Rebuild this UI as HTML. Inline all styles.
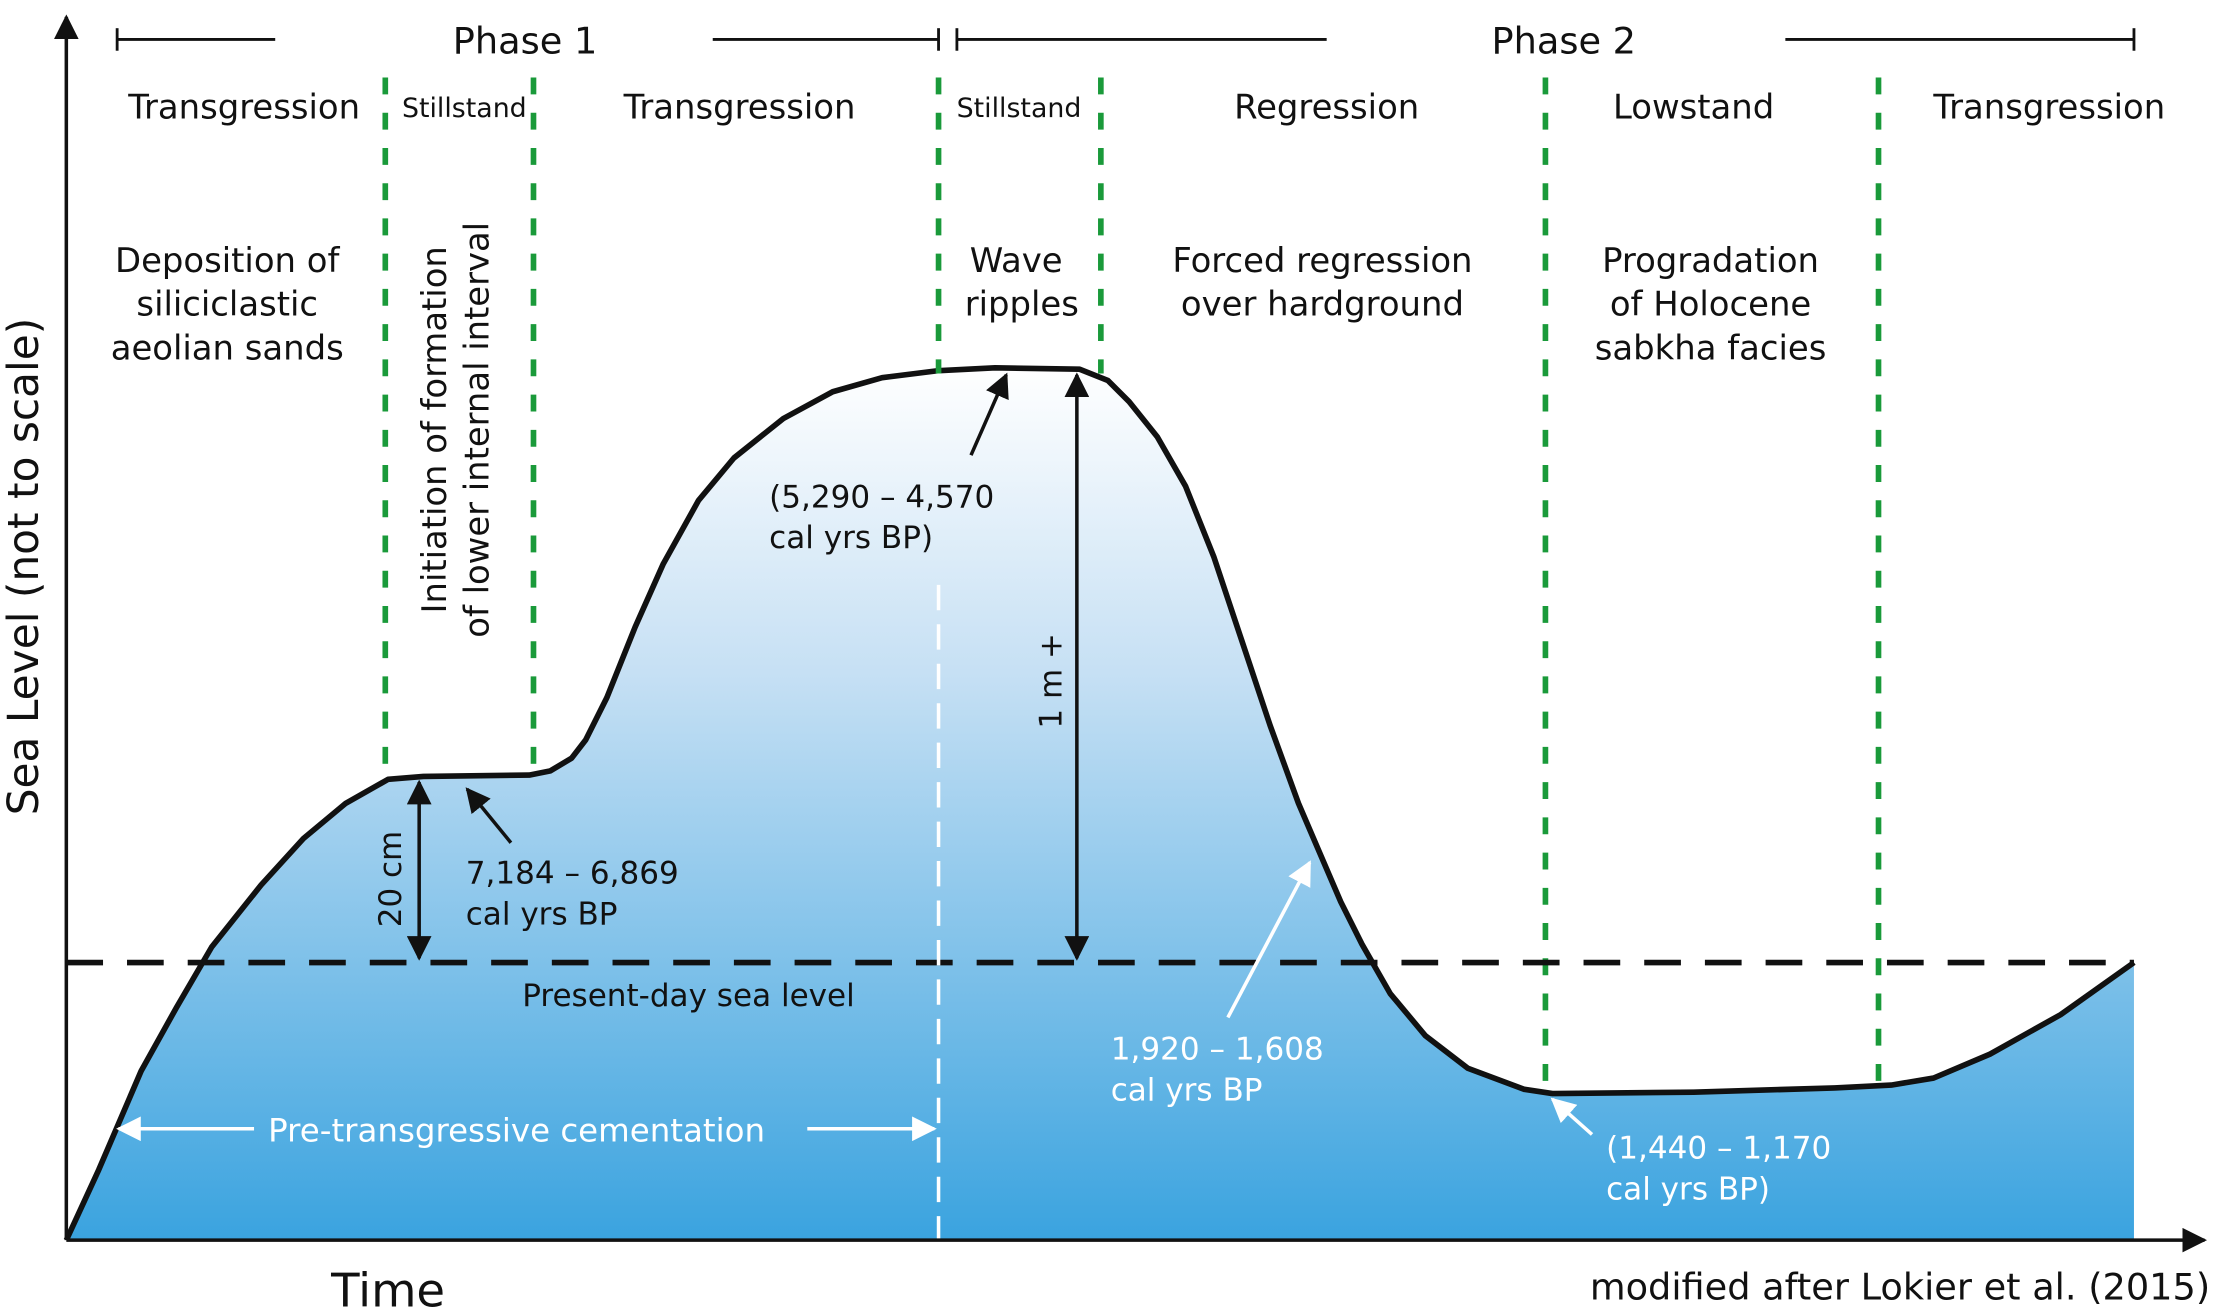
<!DOCTYPE html>
<html><head><meta charset="utf-8"><style>
html,body{margin:0;padding:0;background:#fff;}
svg{display:block;font-family:"DejaVu Sans","Liberation Sans",sans-serif;}
</style></head><body>
<svg id="chart" width="2213" height="1312" viewBox="0 0 1568 931" preserveAspectRatio="none" xmlns="http://www.w3.org/2000/svg">
<defs>
<linearGradient id="sea" gradientUnits="userSpaceOnUse" x1="0" y1="260" x2="0" y2="880">
<stop offset="0" stop-color="#ffffff"/><stop offset="0.35" stop-color="#c6e0f4"/><stop offset="1" stop-color="#3aa3df"/>
</linearGradient>
<marker id="ab" viewBox="0 0 10 10" refX="9" refY="5" markerWidth="7" markerHeight="7" orient="auto-start-reverse"><path d="M0,0L10,5L0,10z" fill="#111"/></marker>
<marker id="aw" viewBox="0 0 10 10" refX="9" refY="5" markerWidth="7" markerHeight="7" orient="auto-start-reverse"><path d="M0,0L10,5L0,10z" fill="#fff"/></marker>
</defs>
<g id="area"></g>
<g stroke="#1a9a3a" stroke-width="4" stroke-dasharray="12,13">
<line x1="273" y1="55" x2="273" y2="550"/><line x1="378" y1="55" x2="378" y2="550"/>
<line x1="665" y1="55" x2="665" y2="265"/><line x1="780" y1="55" x2="780" y2="265"/>
<line x1="1095" y1="55" x2="1095" y2="776"/><line x1="1331" y1="55" x2="1331" y2="772"/>
</g>
<line x1="47" y1="683" x2="1512" y2="683" stroke="#111" stroke-width="4" stroke-dasharray="26,17"/>
<line x1="665" y1="415" x2="665" y2="880" stroke="#fff" stroke-width="2.5" stroke-dasharray="18,10"/>
<g stroke="#111" stroke-width="2.5">
<line x1="47" y1="880" x2="47" y2="12" marker-end="url(#ab)"/>
<line x1="47" y1="880" x2="1562" y2="880" marker-end="url(#ab)"/>
</g>
<g stroke="#111" stroke-width="2">
<line x1="83" y1="28" x2="195" y2="28"/><line x1="83" y1="20" x2="83" y2="36"/>
<line x1="505" y1="28" x2="665" y2="28"/><line x1="665" y1="20" x2="665" y2="36"/>
<line x1="678" y1="28" x2="940" y2="28"/><line x1="678" y1="20" x2="678" y2="36"/>
<line x1="1265" y1="28" x2="1512" y2="28"/><line x1="1512" y1="20" x2="1512" y2="36"/>
</g>
<g font-size="26" fill="#111" text-anchor="middle">
<text x="372" y="38">Phase 1</text>
<text x="1108" y="38">Phase 2</text>
</g>
<g font-size="24" fill="#111" text-anchor="middle">
<text x="173" y="84">Transgression</text>
<text x="329" y="83" font-size="19">Stillstand</text>
<text x="524" y="84">Transgression</text>
<text x="722" y="83" font-size="19">Stillstand</text>
<text x="940" y="84">Regression</text>
<text x="1200" y="84">Lowstand</text>
<text x="1452" y="84">Transgression</text>
<text x="161" y="193"><tspan x="161">Deposition of</tspan><tspan x="161" dy="31">siliciclastic</tspan><tspan x="161" dy="31">aeolian sands</tspan></text>
<text x="720" y="193"><tspan x="720">Wave</tspan><tspan x="724" dy="31">ripples</tspan></text>
<text x="937" y="193"><tspan x="937">Forced regression</tspan><tspan x="937" dy="31">over hardground</tspan></text>
<text x="1212" y="193"><tspan x="1212">Progradation</tspan><tspan x="1212" dy="31">of Holocene</tspan><tspan x="1212" dy="31">sabkha facies</tspan></text>
<text transform="translate(316,305) rotate(-90)"><tspan x="0" y="0">Initiation of formation</tspan><tspan x="0" y="30">of lower internal interval</tspan></text>
</g>
<g font-size="22" fill="#111">
<text x="330" y="627">7,184 – 6,869</text>
<text x="330" y="656">cal yrs BP</text>
<text x="545" y="360">(5,290 – 4,570</text>
<text x="545" y="389">cal yrs BP)</text>
<text x="370" y="714">Present-day sea level</text>
<text transform="translate(284,658) rotate(-90)">20 cm</text>
<text transform="translate(752,517) rotate(-90)">1 m +</text>
</g>
<g font-size="22" fill="#fff">
<text x="787" y="752">1,920 – 1,608</text>
<text x="787" y="781">cal yrs BP</text>
<text x="1138" y="822">(1,440 – 1,170</text>
<text x="1138" y="851">cal yrs BP)</text>
<text x="190" y="810" font-size="23">Pre-transgressive cementation</text>
</g>
<g stroke-width="2.5" fill="none">
<line x1="297" y1="680" x2="297" y2="555" stroke="#111" marker-start="url(#ab)" marker-end="url(#ab)"/>
<line x1="763" y1="680" x2="763" y2="266" stroke="#111" marker-start="url(#ab)" marker-end="url(#ab)"/>
<line x1="362" y1="598" x2="331" y2="560" stroke="#111" marker-end="url(#ab)"/>
<line x1="688" y1="323" x2="713" y2="266" stroke="#111" marker-end="url(#ab)"/>
<line x1="870" y1="722" x2="928" y2="612" stroke="#fff" marker-end="url(#aw)"/>
<line x1="1128" y1="805" x2="1100" y2="780" stroke="#fff" marker-end="url(#aw)"/>
<line x1="180" y1="801" x2="84" y2="801" stroke="#fff" marker-end="url(#aw)"/>
<line x1="572" y1="801" x2="662" y2="801" stroke="#fff" marker-end="url(#aw)"/>
</g>
<text transform="translate(27,402) rotate(-90)" text-anchor="middle" font-size="30" fill="#111">Sea Level (not to scale)</text>
<text x="275" y="927" text-anchor="middle" font-size="33" fill="#111">Time</text>
<text x="1566" y="922" text-anchor="end" font-size="26" fill="#111">modified after Lokier et al. (2015)</text>
<script>
const timeVals=[0,23,53,78,103,138,168,198,228,253,328,343,358,368,383,403,423,448,473,508,543,578,618,658,718,738,753,773,793,813,833,853,873,888,903,918,938,963,993,1033,1053,1153,1253,1293,1323,1363,1413,1465];
const levelVals=[0,50,120,165,208,252,285,310,327,329,330,333,342,355,385,435,480,525,555,583,602,612,617,619,618,610,595,570,535,485,425,365,310,275,240,210,175,145,122,107,104,105,108,110,115,132,160,197];
const x=t=>47+t, y=v=>880-v;
const g=document.getElementById('area');
let d='M'+x(timeVals[0])+','+y(0);
timeVals.forEach((t,i)=>{d+=' L'+x(t)+','+y(levelVals[i]);});
const fill=document.createElementNS('http://www.w3.org/2000/svg','path');
fill.setAttribute('d',d+' L'+x(timeVals[timeVals.length-1])+','+y(0)+' Z');
fill.setAttribute('fill','url(#sea)');


g.appendChild(fill);
const line=document.createElementNS('http://www.w3.org/2000/svg','path');
line.setAttribute('d',d.replace(/^M[^ ]+ L/,'M'));
line.setAttribute('fill','none');line.setAttribute('stroke','#111');line.setAttribute('stroke-width','4');line.setAttribute('stroke-linejoin','round');


g.appendChild(line);
</script>
</svg>
</body></html>
